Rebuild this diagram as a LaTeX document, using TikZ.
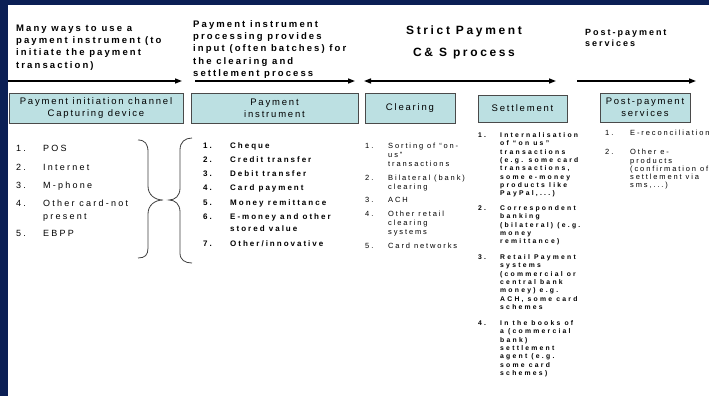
\documentclass[tikz,border=0pt]{standalone}
\usepackage{fontspec}
\setmainfont{Liberation Sans}
\newfontfamily\hdrfont[LetterSpace=22]{Liberation Sans}
\newfontfamily\boxfont[LetterSpace=19]{Liberation Sans}
\newfontfamily\lstfont[LetterSpace=25]{Liberation Sans}
\newfontfamily\smlfont[LetterSpace=33]{Liberation Sans}
\usetikzlibrary{arrows.meta}
\definecolor{navy}{HTML}{0B1F55}
\definecolor{boxfill}{HTML}{BCE0E2}
\definecolor{boxline}{HTML}{4A4A4A}
% lines stacked under the first baseline
\newcommand{\stack}[1]{\begin{tabular}[t]{@{}l@{}}#1\end{tabular}}
\tikzset{
  box/.style={draw=boxline, fill=boxfill, line width=0.9pt, align=center, inner sep=0pt,
    font=\boxfont\fontsize{9.5}{12}\selectfont},
  hdr/.style={anchor=base west, inner sep=0pt, font=\hdrfont\bfseries\fontsize{9.5}{12.2}\selectfont},
  flow/.style={line width=1.4pt, -{Triangle[length=7pt,width=5pt]}},
  lst/.style={anchor=base west, inner sep=0pt, font=\lstfont\fontsize{9}{13}\selectfont},
  lstb/.style={anchor=base west, inner sep=0pt, font=\lstfont\bfseries\fontsize{8}{12}\selectfont},
  clr/.style={anchor=base west, inner sep=0pt, font=\lstfont\fontsize{7.5}{9}\selectfont},
  stl/.style={anchor=base west, inner sep=0pt, font=\smlfont\bfseries\fontsize{6.8}{8.3}\selectfont},
  pst/.style={anchor=base west, inner sep=0pt, font=\lstfont\fontsize{7.5}{8.3}\selectfont},
  brc/.style={draw=black!75, line width=0.8pt}
}
\begin{document}
\begin{tikzpicture}[x=1pt,y=-1pt]
\useasboundingbox (0,0) rectangle (709,396);
\fill[navy] (0,0) rectangle (709,396);
\fill[white] (8,5) rectangle (709,396);

% headings
\node[hdr] (h1) at (16,31.5) {\stack{Many ways to use a\\payment instrument (to\\initiate the payment\\transaction)}};
\node[hdr] (h2) at (193,27.5) {\stack{Payment instrument\\processing provides\\input (often batches) for\\the clearing and\\settlement process}};
\node[hdr, anchor=center, align=center, font=\hdrfont\bfseries\fontsize{12}{22.5}\selectfont] (h3) at (464,42.5) {Strict Payment\\C\& S process};
\node[hdr, font=\hdrfont\bfseries\fontsize{9}{11}\selectfont] (h4) at (585,36) {\stack{Post-payment\\services}};

% arrows
\coordinate (a1s) at (8,81);   \coordinate (a1e) at (182,81);
\coordinate (a2s) at (195,81); \coordinate (a2e) at (355,81);
\coordinate (a3s) at (364,81); \coordinate (a3e) at (556,81);
\coordinate (a4s) at (577,81); \coordinate (a4e) at (696,81);
\draw[flow] (a1s) -- (a1e);
\draw[flow] (a2s) -- (a2e);
\draw[flow, {Triangle[length=7pt,width=5pt]}-{Triangle[length=7pt,width=5pt]}] (a3s) -- (a3e);
\draw[flow] (a4s) -- (a4e);

% boxes
\node[box, minimum width=174, minimum height=30] (init) at (96,108) {Payment initiation channel\\Capturing device};
\node[box, minimum width=167, minimum height=30] (instr) at (274.5,108) {Payment\\instrument};
\node[box, minimum width=90, minimum height=30] (clear) at (410,108) {Clearing};
\node[box, minimum width=89, minimum height=27] (settle) at (522.5,108.5) {Settlement};
\node[box, minimum width=90, minimum height=29] (post) at (645,107.5) {Post-payment\\services};

% channels
\node[lst] (c1n) at (16,151) {1.};  \node[lst] (c1) at (43,151) {POS};
\node[lst] (c2n) at (16,170) {2.};  \node[lst] (c2) at (43,170) {Internet};
\node[lst] (c3n) at (16,188) {3.};  \node[lst] (c3) at (43,188) {M-phone};
\node[lst] (c4n) at (16,206) {4.};  \node[lst] (c4) at (43,206) {\stack{Other card-not\\present}};
\node[lst] (c5n) at (16,236) {5.};  \node[lst] (c5) at (43,236) {EBPP};

% braces
\draw[brc] (138,140) .. controls (145,140) and (148,144) .. (148,152) -- (148,186)
  .. controls (148,195) and (155,200) .. (163,200) .. controls (155,200) and (148,205) .. (148,214)
  -- (148,248) .. controls (148,255) and (145,258) .. (138,258);
\draw[brc] (192,138) .. controls (185,138) and (180,142) .. (180,150) -- (180,188)
  .. controls (180,196) and (175,200) .. (169,200) .. controls (175,200) and (180,204) .. (180,212)
  -- (180,253) .. controls (180,260) and (185,263) .. (192,263);

% instruments
\node[lstb] (i1n) at (203,148) {1.};  \node[lstb] (i1) at (230,148) {Cheque};
\node[lstb] (i2n) at (203,162) {2.};  \node[lstb] (i2) at (230,162) {Credit transfer};
\node[lstb] (i3n) at (203,176) {3.};  \node[lstb] (i3) at (230,176) {Debit transfer};
\node[lstb] (i4n) at (203,190) {4.};  \node[lstb] (i4) at (230,190) {Card payment};
\node[lstb] (i5n) at (203,205) {5.};  \node[lstb] (i5) at (230,205) {Money remittance};
\node[lstb] (i6n) at (203,219) {6.};  \node[lstb] (i6) at (230,219) {\stack{E-money and other\\stored value}};
\node[lstb] (i7n) at (203,246) {7.};  \node[lstb] (i7) at (230,246) {Other/innovative};

% clearing
\node[clr] (k1n) at (365,148) {1.};  \node[clr] (k1) at (388,148) {\stack{Sorting of “on-\\us”\\transactions}};
\node[clr] (k2n) at (365,180) {2.};  \node[clr] (k2) at (388,180) {\stack{Bilateral (bank)\\clearing}};
\node[clr] (k3n) at (365,202) {3.};  \node[clr] (k3) at (388,202) {ACH};
\node[clr] (k4n) at (365,216) {4.};  \node[clr] (k4) at (388,216) {\stack{Other retail\\clearing\\systems}};
\node[clr] (k5n) at (365,248) {5.};  \node[clr] (k5) at (388,248) {Card networks};

% settlement
\node[stl] (s1n) at (478,137.5) {1.};  \node[stl] (s1) at (500,137.5) {\stack{Internalisation\\of “on us”\\transactions\\(e.g. some card\\transactions,\\some e-money\\products like\\PayPal,...)}};
\node[stl] (s2n) at (478,210.5) {2.};  \node[stl] (s2) at (500,210.5) {\stack{Correspondent\\banking\\(bilateral) (e.g.\\money\\remittance)}};
\node[stl] (s3n) at (478,259.5) {3.};  \node[stl] (s3) at (500,259.5) {\stack{Retail Payment\\systems\\(commercial or\\central bank\\money) e.g.\\ACH, some card\\schemes}};
\node[stl] (s4n) at (478,325.5) {4.};  \node[stl] (s4) at (500,325.5) {\stack{In the books of\\a (commercial\\bank)\\settlement\\agent (e.g.\\some card\\schemes)}};

% post-payment
\node[pst] (p1n) at (605,135.7) {1.};  \node[pst] (p1) at (630,135.7) {E-reconciliation};
\node[pst] (p2n) at (605,154.7) {2.};  \node[pst] (p2) at (630,154.7) {\stack{Other e-\\products\\(confirmation of\\settlement via\\sms,...)}};
\end{tikzpicture}
\end{document}
